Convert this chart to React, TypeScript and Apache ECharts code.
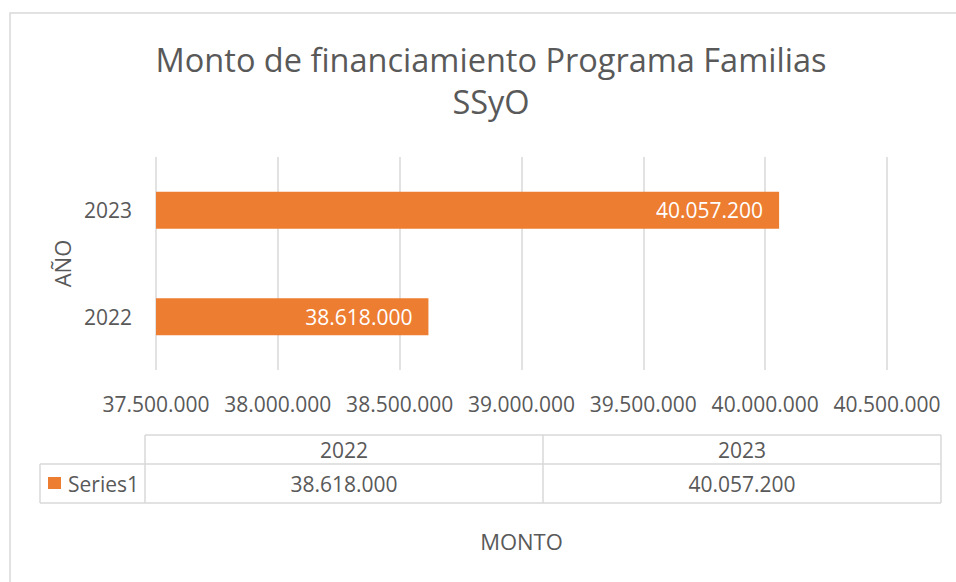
import React, { useEffect, useRef } from "react";
import * as echarts from "echarts";

const titleLines = ["Monto de financiamiento Programa Familias", "SSyO"];
const categories = ["2022", "2023"];
const seriesName = "Series1";
const values = [38618000, 40057200];
const xMin = 37500000;
const xMax = 40500000;
const xInterval = 500000;
const xAxisTitle = "MONTO";
const yAxisTitle = "AÑO";

const FONT = "'Open Sans', 'Noto Sans', sans-serif";
const TEXT = "#595959";
const GRID = "#d9d9d9";
const BAR = "#ED7D31";

const fmt = (n: number) => String(Math.round(n)).replace(/\B(?=(\d{3})+(?!\d))/g, ".");

export default function App() {
  const ref = useRef<HTMLDivElement>(null);
  useEffect(() => {
    if (!ref.current) return;
    const chart = echarts.init(ref.current, undefined, { renderer: "svg" });

    // data table layout
    const tLeft = 145;
    const tRight = 941;
    const sLeft = 40;
    const rTop = 435;
    const rMid = 464;
    const rBot = 503;
    const colW = (tRight - tLeft) / categories.length;
    const lineStyle = { stroke: GRID, lineWidth: 1.5 };
    const tableEls: any[] = [];
    tableEls.push({ type: "line", shape: { x1: tLeft, y1: rTop, x2: tRight, y2: rTop }, style: lineStyle });
    tableEls.push({ type: "line", shape: { x1: sLeft, y1: rMid, x2: tRight, y2: rMid }, style: lineStyle });
    tableEls.push({ type: "line", shape: { x1: sLeft, y1: rBot, x2: tRight, y2: rBot }, style: lineStyle });
    tableEls.push({ type: "line", shape: { x1: sLeft, y1: rMid, x2: sLeft, y2: rBot }, style: lineStyle });
    for (let i = 0; i <= categories.length; i++) {
      const x = tLeft + colW * i;
      tableEls.push({ type: "line", shape: { x1: x, y1: rTop, x2: x, y2: rBot }, style: lineStyle });
    }
    categories.forEach((c, i) => {
      const cx = tLeft + colW * (i + 0.5);
      tableEls.push({
        type: "text",
        x: cx,
        y: (rTop + rMid) / 2,
        style: { text: c, fill: TEXT, font: `21px ${FONT}`, textAlign: "center", textVerticalAlign: "middle" },
      });
      tableEls.push({
        type: "text",
        x: cx,
        y: (rMid + rBot) / 2,
        style: { text: fmt(values[i]), fill: TEXT, font: `21px ${FONT}`, textAlign: "center", textVerticalAlign: "middle" },
      });
    });
    tableEls.push({ type: "rect", shape: { x: 48, y: 477, width: 13, height: 12 }, style: { fill: BAR } });
    tableEls.push({
      type: "text",
      x: 68,
      y: (rMid + rBot) / 2,
      style: { text: seriesName, fill: TEXT, font: `21px ${FONT}`, textAlign: "left", textVerticalAlign: "middle" },
    });

    chart.setOption({
      animation: false,
      backgroundColor: "#ffffff",
      title: {
        text: titleLines.join("\n"),
        left: 486,
        top: 33,
        textAlign: "center",
        textStyle: { fontFamily: FONT, fontSize: 32.5, fontWeight: "normal", color: TEXT, lineHeight: 42 },
      },
      grid: { left: 156, right: 69, top: 157, bottom: 212, containLabel: false },
      xAxis: {
        type: "value",
        min: xMin,
        max: xMax,
        interval: xInterval,
        name: xAxisTitle,
        nameLocation: "middle",
        nameGap: 160,
        nameTextStyle: { fontFamily: FONT, fontSize: 22, color: TEXT },
        axisLine: { show: false },
        axisTick: { show: false },
        axisLabel: { fontFamily: FONT, fontSize: 21, color: TEXT, margin: 23, formatter: (v: number) => fmt(v) },
        splitLine: { show: true, lineStyle: { color: GRID, width: 1.5 } },
      },
      yAxis: {
        type: "category",
        data: categories,
        name: yAxisTitle,
        nameLocation: "middle",
        nameGap: 83,
        nameRotate: 90,
        nameTextStyle: { fontFamily: FONT, fontSize: 22, color: TEXT },
        axisLine: { show: false },
        axisTick: { show: false },
        axisLabel: { fontFamily: FONT, fontSize: 21, color: TEXT, margin: 24 },
        splitLine: { show: false },
      },
      series: [
        {
          name: seriesName,
          type: "bar",
          data: values,
          barWidth: 37,
          itemStyle: { color: BAR },
          label: {
            show: true,
            position: "insideRight",
            distance: 16,
            color: "#ffffff",
            fontFamily: FONT,
            fontSize: 21,
            formatter: (p: any) => fmt(p.value),
          },
        },
      ],
      graphic: [
        {
          type: "rect",
          shape: { x: 10, y: 13, width: 1200, height: 1000 },
          style: { fill: "none", stroke: GRID, lineWidth: 1.5 },
          silent: true,
        },
        ...tableEls,
      ],
    });
    return () => chart.dispose();
  }, []);
  return <div ref={ref} style={{ position: "fixed", left: 0, top: 0, width: 956, height: 582 }} />;
}
